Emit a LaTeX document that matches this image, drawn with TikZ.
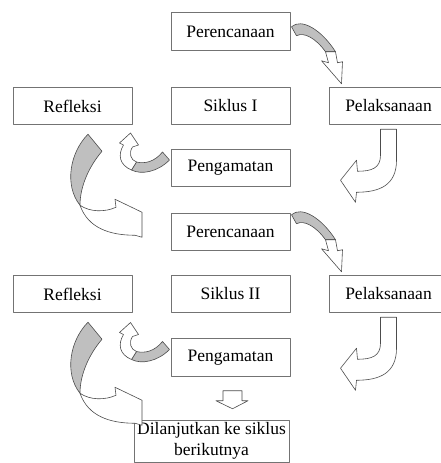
\documentclass[tikz,border=0pt]{standalone}
\usepackage{fontspec}
\setmainfont{Liberation Serif}
\tikzset{
  box/.style={draw=black!55, line width=1pt, fill=white, minimum width=119pt, minimum height=37.5pt, inner sep=0pt, font=\fontsize{17.5pt}{21pt}\selectfont},
  rim/.style={draw=black!70, line width=0.6pt, line join=round, fill=white},
  shade/.style={rim, fill=black!25},
  % from Perencanaan down to Pelaksanaan (placed at pel.north west)
  pics/twist/.style={code={
    \path[shade] (-37,-60) .. controls (-27,-69) and (-7,-57) .. (7,-35) -- (-3,-35) .. controls (-13,-49) and (-25,-55) .. (-32,-51) -- cycle;
    \path[rim] (-3,-35) -- (0,-24) -- (-7,-26) -- (13,-3) -- (14,-25) -- (9,-24) -- (7,-35) -- cycle;
  }},
  % from Pelaksanaan to Pengamatan (placed at pel.south west)
  pics/jhook/.style={code={
    \path[rim] (52,4) -- (68,4) -- (68,35) .. controls (68,60) and (51,67) .. (28,67) -- (27,77) -- (12,55) -- (28,35) -- (29,46) .. controls (43,46) and (52,43) .. (52,30) -- cycle;
  }},
  % from Pengamatan up to Refleksi (placed at pen.west)
  pics/curl/.style={code={
    \path[shade] (-8,-16) .. controls (-16,-6) and (-26,-4) .. (-34,-6) -- (-39,2) .. controls (-29,7) and (-13,4) .. (-1,-8) -- cycle;
    \path[rim] (-34,-6) .. controls (-40,-8) and (-42,-15) .. (-38,-21) -- (-32,-23) -- (-40,-35) -- (-51,-25) -- (-47,-23) .. controls (-53,-13) and (-51,-3) .. (-39,2) -- cycle;
  }},
  % from Refleksi round to the next box (placed at ref.south)
  pics/bigcurl/.style={code={
    \path[shade] (15.5,9) -- (29.5,26) .. controls (17.5,40) and (7.5,60) .. (7.5,80) .. controls (-8.5,60) and (-2.5,27) .. (15.5,9) -- cycle;
    \path[rim] (7.5,80) .. controls (17.5,87) and (32.5,87) .. (43.5,82) -- (42.5,74) -- (69.5,87) -- (69.5,112) -- (62.5,110) .. controls (37.5,110) and (15.5,103) .. (7.5,80) -- cycle;
  }},
  pics/downblock/.style={code={
    \path[rim] (-7.5,14) -- (11.5,14) -- (11.5,24) -- (17.5,24) -- (2,32) -- (-14.5,24) -- (-7.5,24) -- cycle;
  }}
}
\begin{document}
\begin{tikzpicture}[x=1pt, y=-1pt, line join=round, line cap=round]
	\useasboundingbox[fill=white] (0,0) rectangle (441,463);
	% siklus I
	\node[box] (per1) at (230.5,31.5) {Perencanaan};
	\node[box] (ref1) at (72.5,106) {Refleksi};
	\node[box] (sik1) at (230.5,106) {Siklus I};
	\node[box] (pel1) at (388.5,106) {Pelaksanaan};
	\node[box] (pen1) at (230.5,168) {Pengamatan};
	% siklus II
	\node[box] (per2) at (230.5,232) {Perencanaan};
	\node[box] (ref2) at (72.5,294) {Refleksi};
	\node[box] (sik2) at (230.5,294) {Siklus II};
	\node[box] (pel2) at (388.5,294) {Pelaksanaan};
	\node[box] (pen2) at (230.5,357.5) {Pengamatan};
	\node[box, minimum width=155pt, minimum height=42pt, align=center] (lanjut) at (211.5,441) {Dilanjutkan ke siklus\\berikutnya};
	% panah
	\foreach \n in {1,2}
	{
		\pic at (pel\n.north west) {twist};
		\pic at (pel\n.south west) {jhook};
		\pic at (pen\n.west) {curl};
		\pic at (ref\n.south) {bigcurl};
	}
	\pic at (pen2.south) {downblock};
\end{tikzpicture}
\end{document}
